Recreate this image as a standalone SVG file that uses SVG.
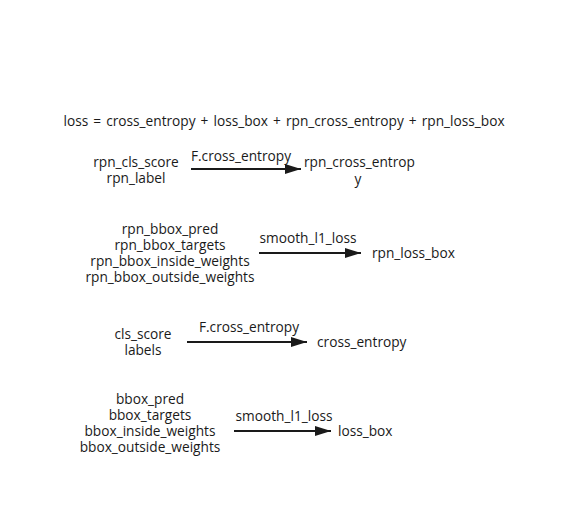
<svg xmlns="http://www.w3.org/2000/svg" width="568" height="529" viewBox="0 0 568 529">
<style>
text{font-family:"Open Sans","Noto Sans",sans-serif;font-size:13.7px;fill:#1a1a1a}
.m{text-anchor:middle}
.c{stroke:#1a1a1a;stroke-width:2;fill:none}
</style>
<rect width="568" height="529" fill="#fff"/>
<g id="formula"><text x="284" y="126" class="m" word-spacing="1.5">loss = cross_entropy + loss_box + rpn_cross_entropy + rpn_loss_box</text></g>
<g id="n1"><text x="136" y="167" class="m">rpn_cls_score</text><text x="136" y="183" class="m">rpn_label</text></g>
<g id="n2"><text x="304" y="167">rpn_cross_entrop</text><text x="358" y="184" class="m">y</text></g>
<g id="n3"><text x="170" y="234" class="m">rpn_bbox_pred</text><text x="170" y="250" class="m">rpn_bbox_targets</text><text x="170" y="266" class="m">rpn_bbox_inside_weights</text><text x="170" y="282" class="m">rpn_bbox_outside_weights</text></g>
<g id="n4"><text x="372" y="258">rpn_loss_box</text></g>
<g id="n5"><text x="143" y="339" class="m">cls_score</text><text x="143" y="355" class="m">labels</text></g>
<g id="n6"><text x="317" y="347">cross_entropy</text></g>
<g id="n7"><text x="150" y="404" class="m">bbox_pred</text><text x="150" y="420" class="m">bbox_targets</text><text x="150" y="436" class="m">bbox_inside_weights</text><text x="150" y="452" class="m">bbox_outside_weights</text></g>
<g id="n8"><text x="338" y="436">loss_box</text></g>
<g id="connectors">
<path class="c" d="M191,169 L301,169"/><path d="M285,164 L301,169 L285,174 z" fill="#1a1a1a"/>
<path class="c" d="M259,253 L361,253"/><path d="M345,248 L361,253 L345,258 z" fill="#1a1a1a"/>
<path class="c" d="M187,342 L307,342"/><path d="M291,337 L307,342 L291,347 z" fill="#1a1a1a"/>
<path class="c" d="M234,431 L331,431"/><path d="M315,426 L331,431 L315,436 z" fill="#1a1a1a"/>
<text x="241" y="161" class="m">F.cross_entropy</text>
<text x="308" y="243" class="m">smooth_l1_loss</text>
<text x="249" y="332" class="m">F.cross_entropy</text>
<text x="284" y="421" class="m">smooth_l1_loss</text>
</g>
</svg>
